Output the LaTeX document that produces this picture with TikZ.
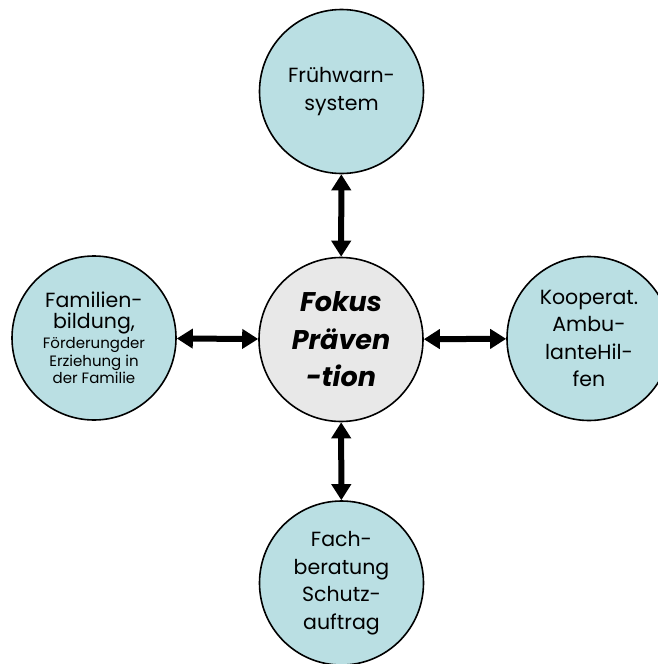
\documentclass[tikz,border=0pt]{standalone}
\usepackage{fontspec}
\setmainfont{Poppins}
\usetikzlibrary{arrows.meta}
\definecolor{bubble}{RGB}{186,223,227}
\definecolor{hub}{RGB}{232,232,232}
\newcommand{\bigline}[1]{{\fontsize{20.5}{20}\selectfont #1}}
\begin{document}
\begin{tikzpicture}[x=1pt,y=-1pt,
  bub/.style={circle,draw=black,line width=1.6pt,fill=bubble,minimum size=164pt,inner sep=0pt,align=center,font=\fontsize{20.5}{27.5}\selectfont},
  hubnode/.style={bub,fill=hub,font=\fontsize{27}{37.5}\selectfont\bfseries\itshape},
  smallbub/.style={bub,font=\fontsize{15}{17.5}\selectfont},
  link/.style={{Triangle[length=16pt,width=19pt]}-{Triangle[length=16pt,width=19pt]},line width=6pt}
]
\useasboundingbox (0,0) rectangle (658,664);
\clip (0,0) rectangle (658,664);
\node[hubnode] (c) at (341,339.5) {Fokus\\Präven\\-tion};
\node[bub] (t) at (341.5,91.5) {Frühwarn-\\system};
\node[bub] (b) at (341.5,583) {Fach-\\beratung\\Schutz-\\auftrag};
\node[smallbub] (l) at (94,338) {\bigline{Familien-}\\[3pt]\bigline{bildung,}\\[3pt]Förderungder\\Erziehung in\\der Familie};
\node[bub] (r) at (589,338.5) {Kooperat.\\Ambu-\\lanteHil-\\fen};
\draw[link] (t) -- (c);
\draw[link] (c) -- (b);
\draw[link] (l) -- (c);
\draw[link] (c) -- (r);
\end{tikzpicture}
\end{document}
